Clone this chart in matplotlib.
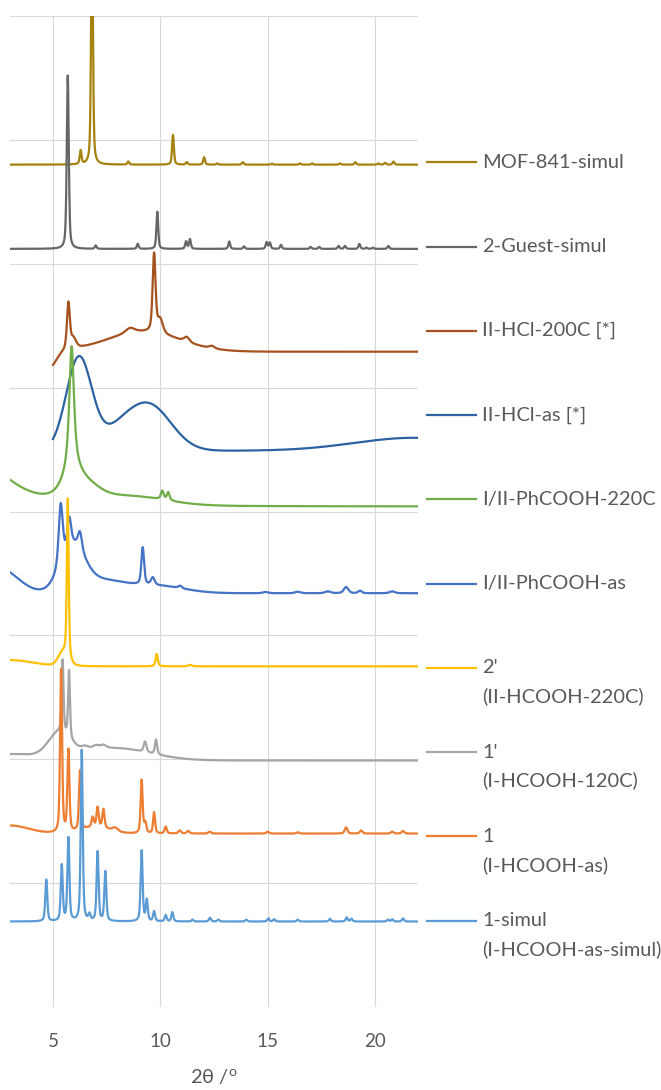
import numpy as np
import matplotlib.pyplot as plt
from matplotlib.lines import Line2D

plt.rcParams['font.family'] = ['Lato', 'DejaVu Sans']
plt.rcParams['mathtext.fontset'] = 'custom'
plt.rcParams['mathtext.rm'] = 'Lato'

# series, top to bottom (legend order)
labels = ['MOF-841-simul', '2-Guest-simul', 'II-HCl-200C [*]', 'II-HCl-as [*]',
          'I/II-PhCOOH-220C', 'I/II-PhCOOH-as', "2'\n(II-HCOOH-220C)",
          "1'\n(I-HCOOH-120C)", '1\n(I-HCOOH-as)', '1-simul\n(I-HCOOH-as-simul)']
colors = ['#A5820F', '#666666', '#A5521E', '#2D62A0', '#70AD47', '#4472C4',
          '#FFC000', '#A5A5A5', '#ED7D31', '#5B9BD5']
offsets = [6.80, 6.12, 5.29, 4.49, 4.04, 3.34, 2.75, 1.99, 1.40, 0.69]
x_start = [3, 3, 5, 5, 3, 3, 3, 3, 3, 3]
lorentz_frac = [0.5, 0.5, 0.5, 0.0, 0.8, 0.5, 0.6, 0.5, 0.5, 0.5]

# peaks: (2theta, height, fwhm), heights in grid units
mof841_pk = [(6.29, 0.11, 0.10), (6.82, 2.0, 0.10), (8.51, 0.025, 0.1), (10.59, 0.24, 0.10),
             (11.23, 0.02, 0.1), (12.04, 0.06, 0.1), (12.65, 0.01, 0.1), (13.84, 0.02, 0.1),
             (15.2, 0.008, 0.1), (16.5, 0.01, 0.1), (17.07, 0.01, 0.1), (18.37, 0.01, 0.1),
             (19.08, 0.02, 0.1), (20.15, 0.01, 0.1), (20.47, 0.015, 0.1), (20.86, 0.025, 0.1)]
guest2_pk = [(5.69, 1.40, 0.11), (6.99, 0.027, 0.1), (8.95, 0.04, 0.1), (9.86, 0.30, 0.1),
             (11.20, 0.06, 0.1), (11.38, 0.078, 0.1), (13.21, 0.06, 0.1), (13.9, 0.02, 0.1),
             (14.95, 0.054, 0.1), (15.10, 0.05, 0.1), (15.62, 0.032, 0.1), (17.0, 0.016, 0.1),
             (17.4, 0.016, 0.1), (18.3, 0.024, 0.1), (18.6, 0.024, 0.1), (19.27, 0.04, 0.1),
             (19.6, 0.01, 0.1), (19.9, 0.01, 0.1), (20.62, 0.024, 0.1)]
hcl200_pk = [(5.72, 0.37, 0.16), (5.95, 0.08, 0.3), (8.59, 0.04, 0.5), (9.71, 0.63, 0.16),
             (9.99, 0.11, 0.3), (11.23, 0.04, 0.3), (12.4, 0.02, 0.3)]
hclas_pk = []
ph220_pk = [(2.0, 0.30, 3.0), (5.87, 0.98, 0.26), (5.87, 0.2, 1.0), (10.09, 0.07, 0.15),
            (10.37, 0.065, 0.15)]
phas_pk = [(5.36, 0.48, 0.22), (5.76, 0.22, 0.2), (6.26, 0.14, 0.22), (9.18, 0.30, 0.15),
           (9.65, 0.06, 0.2), (10.92, 0.02, 0.2), (14.9, 0.01, 0.3), (16.4, 0.012, 0.3),
           (17.8, 0.015, 0.3), (18.65, 0.05, 0.25), (19.3, 0.02, 0.2), (20.8, 0.015, 0.3)]
c2p_pk = [(5.69, 1.30, 0.10), (9.83, 0.10, 0.12), (11.38, 0.012, 0.2)]
c1p_pk = [(5.45, 0.58, 0.1), (5.75, 0.54, 0.1), (6.5, 0.03, 0.4), (7.0, 0.03, 0.4),
          (7.35, 0.025, 0.3), (9.29, 0.085, 0.15), (9.8, 0.12, 0.12)]
c1_pk = [(5.38, 1.32, 0.11), (5.72, 0.66, 0.11), (6.26, 0.48, 0.11), (6.85, 0.08, 0.12),
         (7.08, 0.16, 0.12), (7.35, 0.15, 0.12), (7.9, 0.03, 0.3), (9.13, 0.43, 0.11),
         (9.3, 0.08, 0.12), (9.71, 0.17, 0.11), (10.25, 0.055, 0.12), (10.9, 0.025, 0.15),
         (11.3, 0.02, 0.15), (12.3, 0.015, 0.15), (15.0, 0.015, 0.15), (16.4, 0.01, 0.15),
         (18.65, 0.05, 0.15), (19.35, 0.025, 0.15), (20.8, 0.015, 0.15), (21.3, 0.02, 0.15)]
c1sim_pk = [(4.69, 0.336, 0.11), (5.41, 0.45, 0.11), (5.72, 0.67, 0.11), (6.34, 1.38, 0.11),
            (6.70, 0.05, 0.11), (7.08, 0.56, 0.11), (7.44, 0.40, 0.11), (9.13, 0.57, 0.11),
            (9.37, 0.17, 0.11), (9.71, 0.08, 0.11), (10.25, 0.05, 0.11), (10.56, 0.075, 0.11),
            (11.5, 0.015, 0.11), (12.31, 0.03, 0.11), (12.7, 0.015, 0.11), (14.0, 0.015, 0.11),
            (15.03, 0.025, 0.11), (15.3, 0.018, 0.11), (16.4, 0.015, 0.11), (17.9, 0.022, 0.11),
            (18.68, 0.033, 0.11), (18.9, 0.022, 0.11), (20.6, 0.015, 0.11), (20.8, 0.018, 0.11),
            (21.3, 0.025, 0.11)]

# broad background humps (gaussian): (2theta, height, fwhm)
mof841_bg = []
guest2_bg = []
hcl200_bg = [(9.2, 0.16, 4.0), (4.8, -0.14, 0.8)]
hclas_bg = [(6.21, 0.75, 1.4), (9.5, 0.36, 2.4), (8.0, 0.12, 2.0), (21.8, 0.105, 6.5)]
ph220_bg = [(6.5, 0.1, 1.5), (8.5, 0.07, 4.0)]
phas_bg = [(2.5, 0.2, 2.0), (5.9, 0.35, 1.3), (7.2, 0.1, 2.5), (9.8, 0.06, 3.0)]
c2p_bg = [(5.45, 0.1, 0.5), (3.0, 0.05, 2.5)]
c1p_bg = [(5.3, 0.19, 1.2), (7.8, 0.1, 4.0), (3.0, 0.05, 3.0)]
c1_bg = [(3.0, 0.065, 2.0), (7.0, 0.05, 1.5)]
c1sim_bg = []

peaks = [mof841_pk, guest2_pk, hcl200_pk, hclas_pk, ph220_pk, phas_pk, c2p_pk, c1p_pk, c1_pk, c1sim_pk]
humps = [mof841_bg, guest2_bg, hcl200_bg, hclas_bg, ph220_bg, phas_bg, c2p_bg, c1p_bg, c1_bg, c1sim_bg]


def gauss(x, c, h, w):
    return h * np.exp(-4 * np.log(2) * ((x - c) / w) ** 2)


def lorentz(x, c, h, w):
    return h / (1 + ((x - c) / (w / 2)) ** 2)


def pattern(x, pk, bg, eta, off):
    y = np.full_like(x, off)
    for c, h, w in pk:
        y += eta * lorentz(x, c, h, w) + (1 - eta) * gauss(x, c, h, w)
    for c, h, w in bg:
        y += gauss(x, c, h, w)
    return y


fig = plt.figure(figsize=(6.61, 10.9), dpi=100)
ax = fig.add_axes([10 / 661, 1 - 1007 / 1090, 408 / 661, 991 / 1090])

for i in range(len(labels)):
    x = np.arange(x_start[i], 22.0001, 0.005)
    y = pattern(x, peaks[i], humps[i], lorentz_frac[i], offsets[i])
    ax.plot(x, y, color=colors[i], lw=1.6, zorder=3 + i)

ax.set_xlim(3, 22)
ax.set_ylim(0, 8)
ax.set_xticks([5, 10, 15, 20])
ax.set_yticks(np.arange(0, 9, 1))
ax.set_yticklabels([])
ax.grid(True, color='#d9d9d9', lw=0.8)
ax.tick_params(length=0, labelsize=13.5, labelcolor='#595959', pad=19)
for s in ax.spines.values():
    s.set_visible(False)
ax.set_xlabel(r'2θ /$^{\mathrm{o}}$', fontsize=14.5, color='#595959', labelpad=12)

# legend, one entry per series, evenly spaced like the original
for i, lab in enumerate(labels):
    py = 162.3 + 84.26 * i
    yf = 1 - py / 1090
    fig.add_artist(Line2D([427 / 661, 476 / 661], [yf, yf], transform=fig.transFigure,
                          color=colors[i], lw=1.6))
    for j, part in enumerate(lab.split('\n')):
        fig.text(482 / 661, 1 - (py + 28.4 * j) / 1090, part, fontsize=14.4,
                 color='#595959', va='center', ha='left')

fig.savefig('out.png', dpi=100)
